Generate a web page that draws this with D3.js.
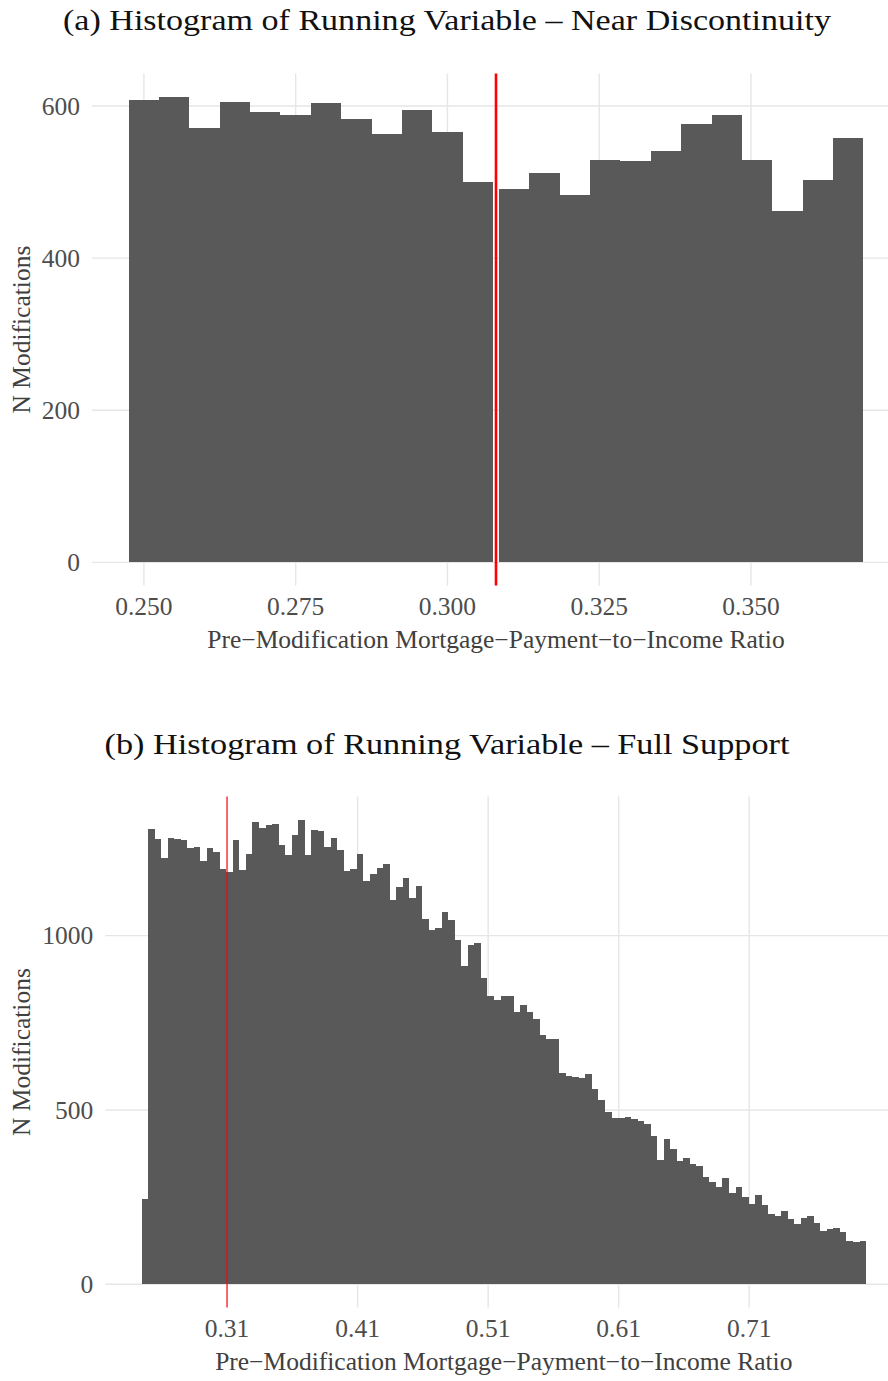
<!DOCTYPE html>
<html><head><meta charset="utf-8">
<script src="https://cdn.jsdelivr.net/npm/d3@7"></script>
<style>body{margin:0;background:#fff}svg{display:block}</style>
</head><body>
<script>
// ---------- DATA ----------
const cutoff = 0.308;

// (a) near discontinuity: bin start values (width 0.005) and counts
const nearBinWidth = 0.005;
const nearBinStarts = [0.2475,0.2525,0.2575,0.2625,0.2675,0.2725,0.2775,0.2825,0.2875,0.2925,0.2975,0.3025,
                       0.3085,0.3135,0.3185,0.3235,0.3285,0.3335,0.3385,0.3435,0.3485,0.3535,0.3585,0.3635];
const nearCounts = [608,612,571,605,592,588,604,583,563,595,566,500,
                    491,512,483,529,528,541,576,588,529,462,503,558];
const nearXTicks = [0.250,0.275,0.300,0.325,0.350];
const nearXLabels = ["0.250","0.275","0.300","0.325","0.350"];
const nearYTicks = [0,200,400,600];
const nearYLabels = ["0","200","400","600"];

// (b) full support
const fullBinWidth = 0.005;
const fullBinStarts = [
0.2425,0.2475,0.2525,0.2575,0.2625,0.2675,0.2725,0.2775,0.2825,0.2875,
0.2925,0.2975,0.3025,0.3075,0.3125,0.3175,0.3225,0.3275,0.3325,0.3375,
0.3425,0.3475,0.3525,0.3575,0.3625,0.3675,0.3725,0.3775,0.3825,0.3875,
0.3925,0.3975,0.4025,0.4075,0.4125,0.4175,0.4225,0.4275,0.4325,0.4375,
0.4425,0.4475,0.4525,0.4575,0.4625,0.4675,0.4725,0.4775,0.4825,0.4875,
0.4925,0.4975,0.5025,0.5075,0.5125,0.5175,0.5225,0.5275,0.5325,0.5375,
0.5425,0.5475,0.5525,0.5575,0.5625,0.5675,0.5725,0.5775,0.5825,0.5875,
0.5925,0.5975,0.6025,0.6075,0.6125,0.6175,0.6225,0.6275,0.6325,0.6375,
0.6425,0.6475,0.6525,0.6575,0.6625,0.6675,0.6725,0.6775,0.6825,0.6875,
0.6925,0.6975,0.7025,0.7075,0.7125,0.7175,0.7225,0.7275,0.7325,0.7375,
0.7425,0.7475,0.7525,0.7575,0.7625,0.7675,0.7725,0.7775,0.7825,0.7875,
0.7925];
const fullCounts = [
245,1306,1277,1223,1280,1278,1274,1251,1254,1214,
1251,1240,1191,1183,1274,1188,1234,1326,1309,1317,
1320,1260,1231,1289,1332,1231,1303,1300,1255,1280,
1246,1186,1191,1234,1157,1177,1194,1205,1102,1139,
1165,1108,1142,1048,1016,1022,1068,1045,988,913,
973,979,879,827,815,827,827,781,801,781,
761,715,703,703,606,597,594,591,603,560,
529,494,477,477,480,474,468,460,425,356,
416,388,353,362,345,339,307,293,279,305,
262,279,250,230,256,227,201,196,210,187,
173,190,196,176,153,159,162,150,124,121,
124];
const fullXTicks = [0.308,0.408,0.508,0.608,0.708];
const fullXLabels = ["0.31","0.41","0.51","0.61","0.71"];
const fullYTicks = [0,500,1000];
const fullYLabels = ["0","500","1000"];

const titles = ["(a) Histogram of Running Variable \u2013 Near Discontinuity",
                "(b) Histogram of Running Variable \u2013 Full Support"];
const xTitle = "Pre\u2212Modification Mortgage\u2212Payment\u2212to\u2212Income Ratio";
const yTitle = "N Modifications";

// ---------- DRAW ----------
const W = 888, H = 1381;
const svg = d3.select("body").append("svg").attr("width", W).attr("height", H)
  .style("background", "#fff");
const FONT = "'Liberation Serif','Times New Roman',serif";

function panel(o) {
  const bins = o.starts.map((s, i) => ({x0: s, x1: s + o.bw, n: o.counts[i]}));
  const xmin = d3.min(bins, d => d.x0), xmax = d3.max(bins, d => d.x1);
  const xpad = (xmax - xmin) * 0.05;
  const ymax = d3.max(bins, d => d.n), ypad = ymax * 0.05;
  const x = d3.scaleLinear().domain([xmin - xpad, xmax + xpad]).range([o.left, o.right]);
  const y = d3.scaleLinear().domain([-ypad, ymax + ypad]).range([o.bottom, o.top]);
  const g = svg.append("g");

  // grid
  g.selectAll(".hg").data(o.yTicks).join("line")
    .attr("x1", o.left).attr("x2", o.right).attr("y1", d => y(d)).attr("y2", d => y(d))
    .attr("stroke", "#e6e6e6").attr("stroke-width", 1.4);
  g.selectAll(".vg").data(o.xTicks).join("line")
    .attr("x1", d => x(d)).attr("x2", d => x(d)).attr("y1", o.top).attr("y2", o.bottom)
    .attr("stroke", "#e6e6e6").attr("stroke-width", 1.4);

  // bars
  g.selectAll(".bar").data(bins).join("rect")
    .attr("x", d => x(d.x0)).attr("width", d => x(d.x1) - x(d.x0))
    .attr("y", d => y(d.n)).attr("height", d => y(0) - y(d.n))
    .attr("fill", "#595959").attr("shape-rendering", "crispEdges");

  // cutoff line
  g.append("line").attr("x1", x(cutoff)).attr("x2", x(cutoff))
    .attr("y1", o.top).attr("y2", o.bottom)
    .attr("stroke", "#ff0000").attr("stroke-width", o.vlw).attr("stroke-opacity", o.vlo);

  // tick labels
  g.selectAll(".xl").data(o.xTicks).join("text")
    .attr("x", d => x(d)).attr("y", o.bottom + 29)
    .attr("text-anchor", "middle").attr("font-family", FONT).attr("font-size", 25.5)
    .attr("fill", "#4d4d4d").text((d, i) => o.xLabels[i]);
  g.selectAll(".yl").data(o.yTicks).join("text")
    .attr("x", o.left - 12).attr("y", d => y(d)).attr("dy", "0.34em")
    .attr("text-anchor", "end").attr("font-family", FONT).attr("font-size", 25.5)
    .attr("fill", "#4d4d4d").text((d, i) => o.yLabels[i]);

  // axis titles
  g.append("text").attr("x", (o.left + o.right) / 2).attr("y", o.bottom + 62.5)
    .attr("text-anchor", "middle").attr("font-family", FONT).attr("font-size", 25.5)
    .attr("fill", "#404040").text(xTitle);
  g.append("text").attr("transform", `translate(30,${(o.top + o.bottom) / 2}) rotate(-90)`)
    .attr("text-anchor", "middle").attr("font-family", FONT).attr("font-size", 25.5)
    .attr("fill", "#404040").text(yTitle);

  // main title
  g.append("text").attr("x", 447).attr("y", o.titleY)
    .attr("text-anchor", "middle").attr("font-family", FONT).attr("font-size", 30)
    .attr("textLength", o.titleW).attr("lengthAdjust", "spacingAndGlyphs")
    .attr("fill", "#111").text(o.title);
}

panel({starts: nearBinStarts, counts: nearCounts, bw: nearBinWidth,
  xTicks: nearXTicks, xLabels: nearXLabels, yTicks: nearYTicks, yLabels: nearYLabels,
  left: 92, right: 900, top: 73.6, bottom: 585.6, vlw: 2.6, vlo: 1,
  title: titles[0], titleY: 30, titleW: 768});

panel({starts: fullBinStarts, counts: fullCounts, bw: fullBinWidth,
  xTicks: fullXTicks, xLabels: fullXLabels, yTicks: fullYTicks, yLabels: fullYLabels,
  left: 105.3, right: 902.3, top: 796.6, bottom: 1307.5, vlw: 1.4, vlo: 0.8,
  title: titles[1], titleY: 754, titleW: 685});
</script>
</body></html>
